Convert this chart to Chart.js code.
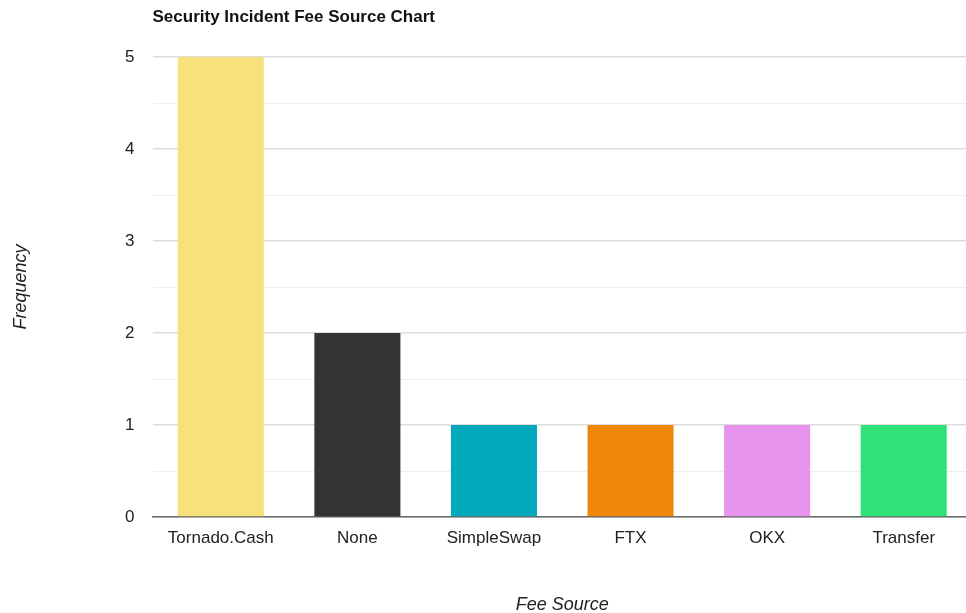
<!DOCTYPE html>
<html>
<head>
<meta charset="utf-8">
<script src="https://cdn.jsdelivr.net/npm/chart.js@4"></script>
<style>
  html, body { margin: 0; padding: 0; background: #fff; overflow: hidden; }
  #wrap { width: 972px; height: 613px; }
</style>
</head>
<body>
<div id="wrap"><canvas id="chart-fees"></canvas></div>
<script>
// datos del gráfico
const feeSources = ['Tornado.Cash', 'None', 'SimpleSwap', 'FTX', 'OKX', 'Transfer'];
const frequency = [5, 2, 1, 1, 1, 1];
const barColors = ['#f8e07a', '#333333', '#02a8bb', '#f0860a', '#e894ee', '#2ee277'];
const chartTitle = 'Security Incident Fee Source Chart';

// título alineado con el área del gráfico
const titlePlugin = {
    id: 'leftTitle',
    afterDraw(chart) {
        const ctx = chart.ctx;
        ctx.save();
        ctx.font = 'bold 17px "Liberation Sans", Arial, sans-serif';
        ctx.fillStyle = '#111';
        ctx.textBaseline = 'middle';
        ctx.textAlign = 'left';
        ctx.fillText(chartTitle, chart.chartArea.left, 17);
        ctx.restore();
    }
};

const tickFont = { family: '"Liberation Sans", Arial, sans-serif', size: 17 };
const axisTitleFont = { family: '"Liberation Sans", Arial, sans-serif', size: 18, style: 'italic' };

new Chart(document.getElementById('chart-fees'), {
    type: 'bar',
    data: {
        labels: feeSources,
        datasets: [{
            data: frequency,
            backgroundColor: barColors,
            categoryPercentage: 1,
            barPercentage: 0.63,
        }],
    },
    options: {
        responsive: true,
        maintainAspectRatio: false,
        animation: false,
        layout: { padding: { top: 57, left: 10, right: 0, bottom: 0 } },
        plugins: {
            legend: { display: false },
            tooltip: { enabled: false },
        },
        scales: {
            x: {
                grid: { display: false, drawTicks: false },
                border: { color: '#666', width: 1.5 },
                ticks: { color: '#222', font: tickFont, padding: 11 },
                title: {
                    display: true,
                    text: 'Fee Source',
                    color: '#222',
                    font: axisTitleFont,
                    padding: { top: 0, bottom: -3 },
                },
                afterFit(scale) { scale.height = 96; },
            },
            y: {
                min: 0,
                max: 5,
                ticks: {
                    stepSize: 0.5,
                    color: '#222',
                    font: tickFont,
                    padding: 18,
                    callback: v => Number.isInteger(v) ? v : '',
                },
                grid: {
                    drawTicks: false,
                    color: c => Number.isInteger(c.tick.value) ? '#dddddd' : '#efefef',
                    lineWidth: c => Number.isInteger(c.tick.value) ? 1.5 : 1,
                },
                border: { display: false },
                title: {
                    display: true,
                    text: 'Frequency',
                    color: '#222',
                    font: axisTitleFont,
                    padding: 0,
                },
                afterFit(scale) { scale.width = 142.5; },
            },
        },
    },
    plugins: [titlePlugin],
});
</script>
</body>
</html>
